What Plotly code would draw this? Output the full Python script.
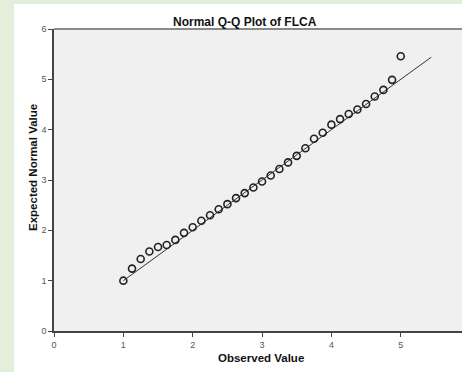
import plotly.graph_objects as go

observed = [1.0, 1.125, 1.25, 1.375, 1.5, 1.625, 1.75, 1.875, 2.0, 2.125, 2.25,
            2.375, 2.5, 2.625, 2.75, 2.875, 3.0, 3.125, 3.25, 3.375, 3.5, 3.625,
            3.75, 3.875, 4.0, 4.125, 4.25, 4.375, 4.5, 4.625, 4.75, 4.875, 5.0]
expected = [1.0, 1.24, 1.43, 1.58, 1.67, 1.71, 1.81, 1.95, 2.06, 2.19, 2.30,
            2.42, 2.52, 2.64, 2.74, 2.85, 2.97, 3.09, 3.22, 3.35, 3.48, 3.63,
            3.82, 3.94, 4.10, 4.21, 4.31, 4.40, 4.51, 4.66, 4.79, 4.99, 5.46]
ref_line = [1.0, 5.44]
x_ticks = [0, 1, 2, 3, 4, 5]
y_ticks = [0, 1, 2, 3, 4, 5, 6]

W, H = 462, 372
L, T, B, R = 54, 29, 41, 0
pw, ph = W - L - R, H - T - B

def px(x):
    return (x - L) / pw

def py(y):
    return (H - B - y) / ph

fig = go.Figure()
fig.add_trace(go.Scatter(x=ref_line, y=ref_line, mode="lines",
                         line=dict(color="#333333", width=1), hoverinfo="skip",
                         showlegend=False))
fig.add_trace(go.Scatter(x=observed, y=expected, mode="markers",
                         marker=dict(symbol="circle-open", size=7, color="#222222",
                                     line=dict(width=1.6, color="#222222")),
                         showlegend=False))

green = "#e3efda"
shapes = [
    dict(type="rect", xref="paper", yref="paper", x0=px(0), x1=px(14), y0=py(0), y1=py(H),
         fillcolor=green, line=dict(width=0), layer="below"),
    dict(type="rect", xref="paper", yref="paper", x0=px(0), x1=px(W), y0=py(0), y1=py(4),
         fillcolor=green, line=dict(width=0), layer="below"),
    dict(type="line", xref="paper", yref="paper", x0=0, x1=1, y0=1, y1=1,
         line=dict(color="#8a8a8a", width=2)),
]

annotations = [
    dict(text="<b>Normal Q-Q Plot of FLCA</b>", xref="paper", yref="paper",
         x=px(245), y=py(22), showarrow=False, xanchor="center", yanchor="middle",
         font=dict(family="Liberation Sans, Arial", size=12, color="#111111")),
    dict(text="<b>Observed Value</b>", xref="paper", yref="paper",
         x=px(261), y=py(358), showarrow=False, xanchor="center", yanchor="middle",
         font=dict(family="Liberation Sans, Arial", size=11.5, color="#111111")),
    dict(text="<b>Expected Normal Value</b>", xref="paper", yref="paper",
         x=px(33), y=py(168), showarrow=False, xanchor="center", yanchor="middle",
         textangle=-90,
         font=dict(family="Liberation Sans, Arial", size=11.5, color="#111111")),
]

fig.update_layout(
    width=W, height=H,
    margin=dict(l=L, r=R, t=T, b=B, pad=0),
    paper_bgcolor="white", plot_bgcolor="#f0f0f0",
    shapes=shapes, annotations=annotations,
    xaxis=dict(range=[0, pw / 69.35], tickvals=x_ticks, ticks="outside", ticklen=4,
               tickcolor="#444444", showgrid=False, zeroline=False, showline=True,
               linecolor="#444444", linewidth=1.5,
               tickfont=dict(family="Liberation Sans, Arial", size=9, color="#555555")),
    yaxis=dict(range=[0, 6], tickvals=y_ticks, ticks="outside", ticklen=4,
               tickcolor="#444444", showgrid=False, zeroline=False, showline=True,
               linecolor="#444444", linewidth=1.5,
               tickfont=dict(family="Liberation Sans, Arial", size=9, color="#555555")),
    hovermode=False,
)

fig.write_html(
    "out.html",
    config={"displayModeBar": False},
    post_script="var s=document.createElement('style');"
                "s.textContent='html,body{margin:0!important;padding:0!important;"
                "overflow:hidden!important;background:white;}"
                "::-webkit-scrollbar{display:none;width:0;height:0;}';"
                "document.head.appendChild(s);",
)
